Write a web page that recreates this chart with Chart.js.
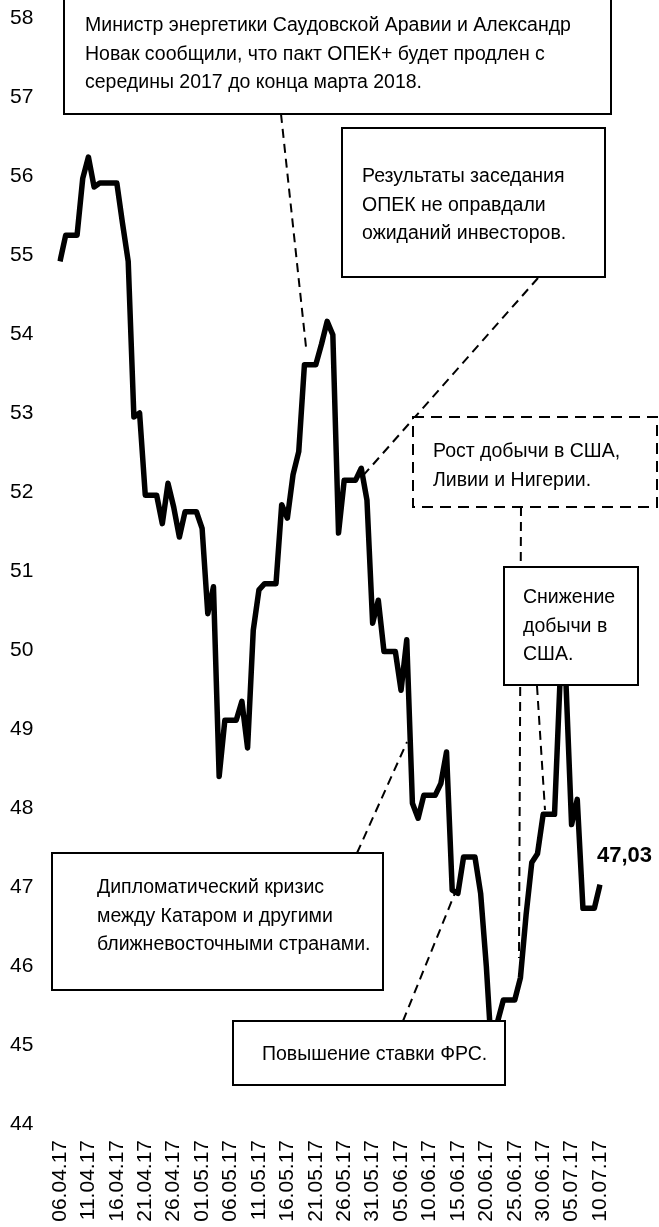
<!DOCTYPE html>
<html>
<head>
    <meta charset="utf-8">
    <title>Brent 2017</title>
    <script src="https://cdn.jsdelivr.net/npm/chart.js@4.4.1/dist/chart.umd.min.js"></script>
    <style>
        body {
            margin: 0;
            background: #ffffff;
        }
        .chart-box {
            position: relative;
            width: 659px;
            height: 1227px;
        }
    </style>
</head>
<body>
    <div class="chart-box">
        <canvas id="oilChart"></canvas>
    </div>

    <script>
        // daily dates, weekends carry the previous close
        const dates = [
            '06.04.17', '07.04.17', '08.04.17', '09.04.17', '10.04.17', '11.04.17', '12.04.17', '13.04.17',
            '14.04.17', '15.04.17', '16.04.17', '17.04.17', '18.04.17', '19.04.17', '20.04.17', '21.04.17',
            '22.04.17', '23.04.17', '24.04.17', '25.04.17', '26.04.17', '27.04.17', '28.04.17', '29.04.17',
            '30.04.17', '01.05.17', '02.05.17', '03.05.17', '04.05.17', '05.05.17', '06.05.17', '07.05.17',
            '08.05.17', '09.05.17', '10.05.17', '11.05.17', '12.05.17', '13.05.17', '14.05.17', '15.05.17',
            '16.05.17', '17.05.17', '18.05.17', '19.05.17', '20.05.17', '21.05.17', '22.05.17', '23.05.17',
            '24.05.17', '25.05.17', '26.05.17', '27.05.17', '28.05.17', '29.05.17', '30.05.17', '31.05.17',
            '01.06.17', '02.06.17', '03.06.17', '04.06.17', '05.06.17', '06.06.17', '07.06.17', '08.06.17',
            '09.06.17', '10.06.17', '11.06.17', '12.06.17', '13.06.17', '14.06.17', '15.06.17', '16.06.17',
            '17.06.17', '18.06.17', '19.06.17', '20.06.17', '21.06.17', '22.06.17', '23.06.17', '24.06.17',
            '25.06.17', '26.06.17', '27.06.17', '28.06.17', '29.06.17', '30.06.17', '01.07.17', '02.07.17',
            '03.07.17', '04.07.17', '05.07.17', '06.07.17', '07.07.17', '08.07.17', '09.07.17', '10.07.17'
        ];

        const prices = [
            54.92, 55.25, 55.25, 55.25, 55.97, 56.24, 55.86, 55.91, 55.91, 55.91, 55.91, 55.40,
            54.92, 52.95, 53.00, 51.96, 51.96, 51.96, 51.60, 52.11, 51.81, 51.43, 51.75, 51.75,
            51.75, 51.54, 50.46, 50.80, 48.40, 49.11, 49.11, 49.11, 49.35, 48.76, 50.25, 50.76,
            50.84, 50.84, 50.84, 51.84, 51.67, 52.22, 52.51, 53.61, 53.61, 53.61, 53.87, 54.16,
            53.99, 51.48, 52.15, 52.15, 52.15, 52.30, 51.90, 50.34, 50.63, 49.98, 49.98, 49.98,
            49.49, 50.13, 48.06, 47.87, 48.16, 48.16, 48.16, 48.31, 48.71, 46.96, 46.92, 47.38,
            47.38, 47.38, 46.92, 46.00, 44.82, 45.30, 45.57, 45.57, 45.57, 45.85, 46.65, 47.31,
            47.42, 47.92, 47.92, 47.92, 49.67, 49.61, 47.79, 48.11, 46.73, 46.73, 46.73, 47.03
        ];

        const labelStep = 5;
        const yMin = 44;
        const yMax = 58;
        const lastValueText = '47,03';

        // text boxes drawn on top of the line
        const notes = [
            { x: 64, y: -2, w: 547, h: 116, dashed: false,
              lines: ['Министр энергетики Саудовской Аравии и Александр',
                      'Новак сообщили, что пакт ОПЕК+ будет продлен с',
                      'середины 2017 до конца марта 2018.'],
              tx: 85, ty: 26 },
            { x: 342, y: 128, w: 263, h: 149, dashed: false,
              lines: ['Результаты заседания', 'ОПЕК не оправдали', 'ожиданий инвесторов.'],
              tx: 362, ty: 177 },
            { x: 413, y: 417, w: 244, h: 90, dashed: true,
              lines: ['Рост добычи в США,', 'Ливии и Нигерии.'],
              tx: 433, ty: 452 },
            { x: 504, y: 567, w: 134, h: 118, dashed: false,
              lines: ['Снижение', 'добычи в', 'США.'],
              tx: 523, ty: 598 },
            { x: 52, y: 853, w: 331, h: 137, dashed: false,
              lines: ['Дипломатический кризис', 'между Катаром и другими', 'ближневосточными странами.'],
              tx: 97, ty: 888 },
            { x: 233, y: 1021, w: 272, h: 64, dashed: false,
              lines: ['Повышение ставки ФРС.'],
              tx: 262, ty: 1055 }
        ];

        const leaders = [
            [281, 114, 306, 347],
            [538, 278, 361, 478],
            [521, 507, 519, 958],
            [537, 686, 545, 810],
            [357, 853, 407, 742],
            [403, 1021, 455, 893]
        ];

        const notesPlugin = {
            id: 'notes',
            afterDatasetsDraw(chart) {
                const ctx = chart.ctx;
                ctx.save();
                ctx.strokeStyle = '#000';
                ctx.lineWidth = 2;
                ctx.setLineDash([9, 6]);
                leaders.forEach(l => {
                    ctx.beginPath();
                    ctx.moveTo(l[0], l[1]);
                    ctx.lineTo(l[2], l[3]);
                    ctx.stroke();
                });

                ctx.font = '19.5px "Liberation Sans", Arial, sans-serif';
                ctx.textBaseline = 'middle';
                ctx.textAlign = 'left';
                notes.forEach(n => {
                    ctx.fillStyle = '#fff';
                    ctx.fillRect(n.x, n.y, n.w, n.h);
                    ctx.setLineDash(n.dashed ? [11, 7] : []);
                    ctx.strokeRect(n.x, n.y, n.w, n.h);
                    ctx.fillStyle = '#000';
                    n.lines.forEach((t, i) => ctx.fillText(t, n.tx, n.ty + i * 28.5));
                });

                // last value label
                const meta = chart.getDatasetMeta(0);
                const last = meta.data[meta.data.length - 1];
                ctx.font = 'bold 22px "Liberation Sans", Arial, sans-serif';
                ctx.fillText(lastValueText, last.x - 3, last.y - 29);
                ctx.restore();
            }
        };

        new Chart(document.getElementById('oilChart'), {
            type: 'line',
            data: {
                labels: dates,
                datasets: [{
                    data: prices,
                    borderColor: '#000',
                    borderWidth: 5.5,
                    borderJoinStyle: 'round',
                    pointRadius: 0,
                    tension: 0,
                    fill: false
                }]
            },
            options: {
                responsive: true,
                maintainAspectRatio: false,
                animation: false,
                layout: {
                    padding: { top: 18, right: 59, left: 10, bottom: 0 }
                },
                plugins: {
                    legend: { display: false },
                    tooltip: { enabled: false }
                },
                scales: {
                    x: {
                        type: 'category',
                        offset: false,
                        grid: { display: false, drawTicks: false },
                        border: { display: false },
                        afterFit: (scale) => { scale.height = 103; },
                        ticks: {
                            autoSkip: false,
                            minRotation: 90,
                            maxRotation: 90,
                            padding: 16,
                            color: '#000',
                            font: { family: '"Liberation Sans", Arial, sans-serif', size: 21 },
                            callback: (value, index) => index % labelStep === 0 ? dates[index] : ''
                        }
                    },
                    y: {
                        min: yMin,
                        max: yMax,
                        grid: { display: false, drawTicks: false },
                        border: { display: false },
                        afterFit: (scale) => { scale.width = 50; },
                        ticks: {
                            stepSize: 1,
                            padding: 0,
                            crossAlign: 'far',
                            color: '#000',
                            font: { family: '"Liberation Sans", Arial, sans-serif', size: 21 }
                        }
                    }
                }
            },
            plugins: [notesPlugin]
        });
    </script>
</body>
</html>
